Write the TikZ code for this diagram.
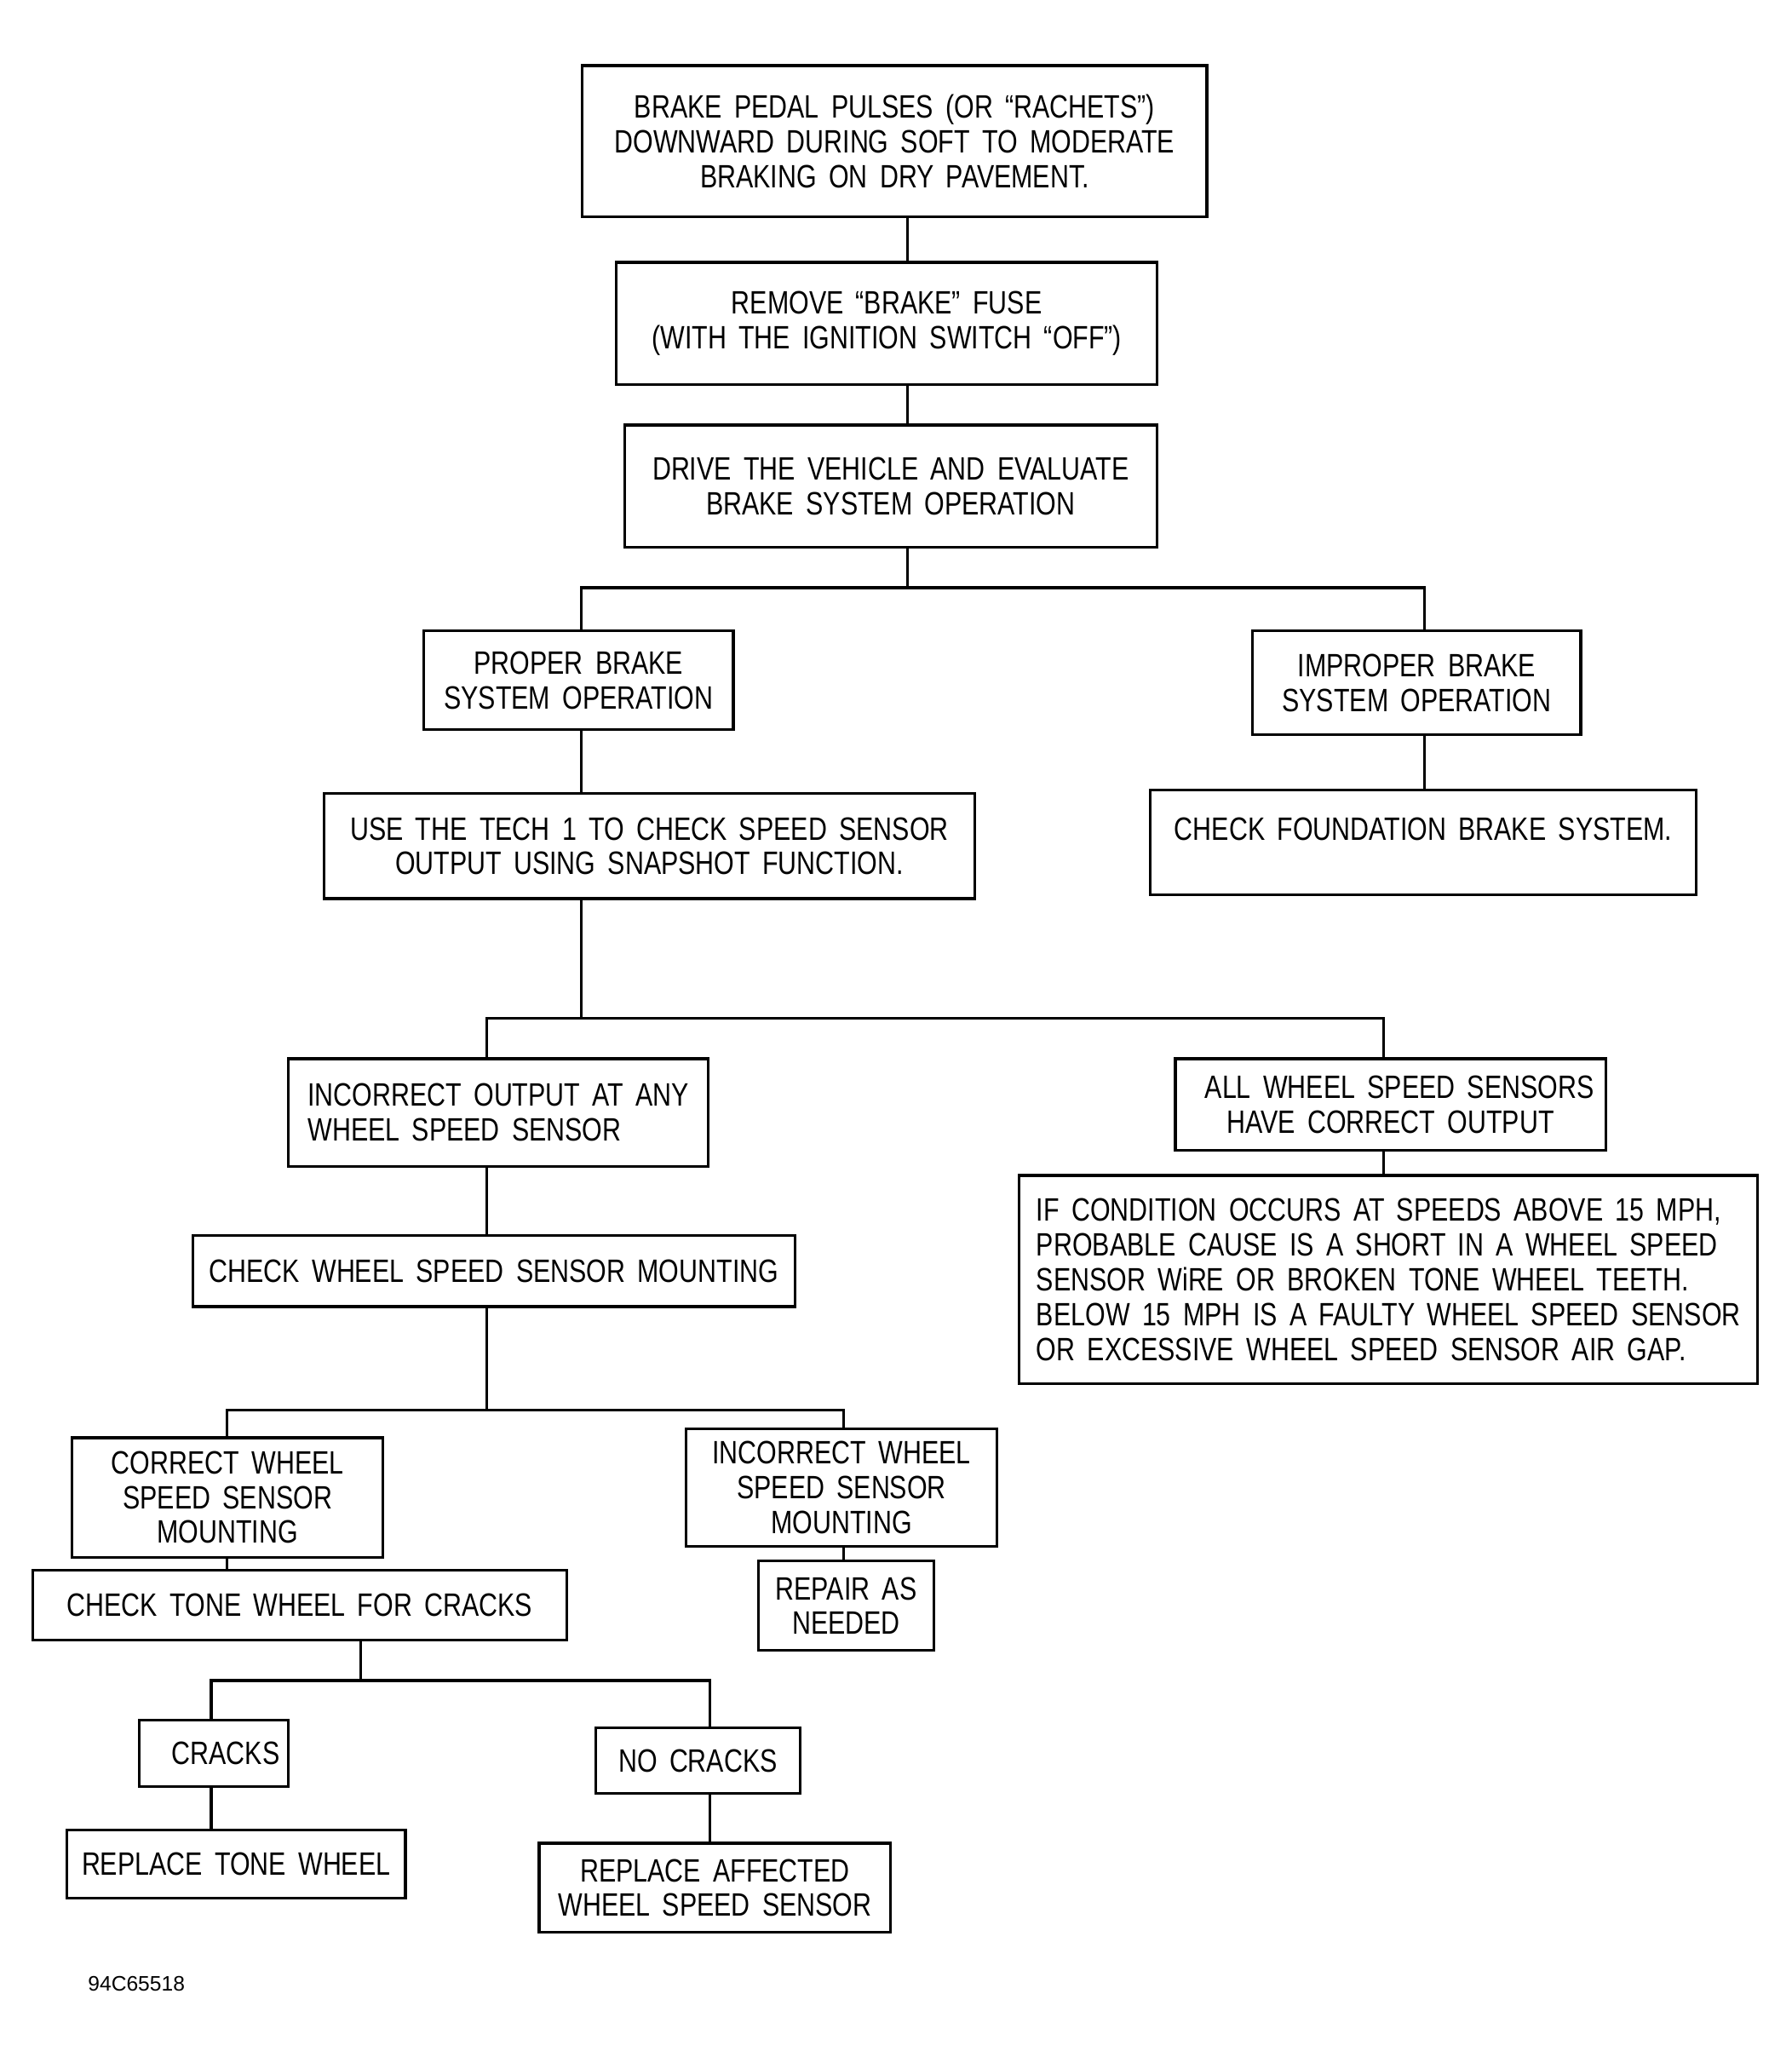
\documentclass[tikz,border=0pt]{standalone}
\usepackage{fontspec}
\setmainfont{Liberation Sans}
\newfontfamily\chartFont{Liberation Sans}[FakeStretch=0.8, WordSpace=1.7]
\usepackage{tikz}
\newcommand{\pxUnit}{0.015403}
\newcommand{\boxFont}{\chartFont\fontsize{10.8}{11.6}\selectfont}

\begin{document}
\begin{tikzpicture}[x=\pxUnit cm, y=-\pxUnit cm]
  \tikzset{box/.style={draw, line width=0.9pt, align=center, inner sep=0pt, font=\boxFont},
           wh/.style 2 args={minimum width=#1*\pxUnit cm, minimum height=#2*\pxUnit cm},
           link/.style={line width=0.9pt}}
  \useasboundingbox (0,0) rectangle (1366,1568);
  \node[box, wh={476}{115}, text depth=-4pt] (pulse) at (682,107.5) {BRAKE PEDAL PULSES (OR “RACHETS”)\\DOWNWARD DURING SOFT TO MODERATE\\BRAKING ON DRY PAVEMENT.};
  \node[box, wh={412}{93}] (fuse) at (676,246.5) {REMOVE “BRAKE” FUSE\\(WITH THE IGNITION SWITCH “OFF”)};
  \node[box, wh={406}{93}] (drive) at (679,370.5) {DRIVE THE VEHICLE AND EVALUATE\\BRAKE SYSTEM OPERATION};
  \node[box, wh={236}{75}] (proper) at (441,518.5) {PROPER BRAKE\\SYSTEM OPERATION};
  \node[box, wh={250}{79}] (improper) at (1080,520.5) {IMPROPER BRAKE\\SYSTEM OPERATION};
  \node[box, wh={496}{80}] (tech) at (495,645) {USE THE TECH 1 TO CHECK SPEED SENSOR\\OUTPUT USING SNAPSHOT FUNCTION.};
  \node[box, wh={416}{80}] (foundation) at (1085,642) {CHECK FOUNDATION BRAKE SYSTEM.\\[-6pt]\strut};
  \node[box, wh={320}{82}, align=left] (badout) at (380,848) {INCORRECT OUTPUT AT ANY\\WHEEL SPEED SENSOR};
  \node[box, wh={328}{70}] (goodout) at (1060,842) {\hspace{6pt}ALL WHEEL SPEED SENSORS\\HAVE CORRECT OUTPUT};
  \node[box, wh={563}{159}, align=left] (condition) at (1058.5,975.5) {IF CONDITION OCCURS AT SPEEDS ABOVE 15 MPH,\\PROBABLE CAUSE IS A SHORT IN A WHEEL SPEED\\SENSOR WiRE OR BROKEN TONE WHEEL TEETH.\\BELOW 15 MPH IS A FAULTY WHEEL SPEED SENSOR\\OR EXCESSIVE WHEEL SPEED SENSOR AIR GAP.};
  \node[box, wh={459}{54}] (mount) at (376.5,969) {CHECK WHEEL SPEED SENSOR MOUNTING};
  \node[box, wh={237}{91}] (goodmount) at (173.5,1141.5) {CORRECT WHEEL\\SPEED SENSOR\\MOUNTING};
  \node[box, wh={237}{90}] (badmount) at (641.5,1134) {INCORRECT WHEEL\\SPEED SENSOR\\MOUNTING};
  \node[box, wh={407}{53}] (tone) at (228.5,1223.5) {CHECK TONE WHEEL FOR CRACKS};
  \node[box, wh={134}{68}] (repair) at (645,1224) {REPAIR AS\\NEEDED};
  \node[box, wh={114}{51}] (cracks) at (163,1336.5) {\hspace{8pt}CRACKS};
  \node[box, wh={156}{50}] (nocracks) at (532,1342) {NO CRACKS};
  \node[box, wh={258}{52}] (replacetone) at (180,1421) {REPLACE TONE WHEEL};
  \node[box, wh={268}{68}] (replacesensor) at (545,1439) {REPLACE AFFECTED\\WHEEL SPEED SENSOR};
  \node[font=\fontsize{7}{8}\selectfont] (figno) at (104,1512) {94C65518};
  \coordinate (j1) at (692,448);
  \coordinate (j1a) at (443,448);
  \coordinate (j1b) at (1086,448);
  \coordinate (j2) at (443,776);
  \coordinate (j2a) at (371,776);
  \coordinate (j2b) at (1055,776);
  \coordinate (j3) at (371,1075);
  \coordinate (j3a) at (173,1075);
  \coordinate (j3b) at (643,1075);
  \coordinate (j4) at (275,1281);
  \coordinate (j4a) at (161,1281);
  \coordinate (j4b) at (541,1281);
  \draw[link] (pulse.south -| j1) -- (fuse.north -| j1);
  \draw[link] (fuse.south -| j1) -- (drive.north -| j1);
  \draw[link] (drive.south -| j1) -- (j1);
  \draw[link] (proper.north -| j1a) -- (j1a) -- (j1b) -- (improper.north -| j1b);
  \draw[link] (proper.south -| j1a) -- (tech.north -| j1a);
  \draw[link] (improper.south -| j1b) -- (foundation.north -| j1b);
  \draw[link] (tech.south -| j2) -- (j2);
  \draw[link] (badout.north -| j2a) -- (j2a) -- (j2b) -- (goodout.north -| j2b);
  \draw[link] (goodout.south -| j2b) -- (condition.north -| j2b);
  \draw[link] (badout.south -| j2a) -- (mount.north -| j2a);
  \draw[link] (mount.south -| j3) -- (j3);
  \draw[link] (goodmount.north -| j3a) -- (j3a) -- (j3b) -- (badmount.north -| j3b);
  \draw[link] (goodmount.south -| j3a) -- (tone.north -| j3a);
  \draw[link] (badmount.south -| j3b) -- (repair.north -| j3b);
  \draw[link] (tone.south -| j4) -- (j4);
  \draw[link] (cracks.north -| j4a) -- (j4a) -- (j4b) -- (nocracks.north -| j4b);
  \draw[link] (cracks.south -| j4a) -- (replacetone.north -| j4a);
  \draw[link] (nocracks.south -| j4b) -- (replacesensor.north -| j4b);
\end{tikzpicture}
\end{document}
